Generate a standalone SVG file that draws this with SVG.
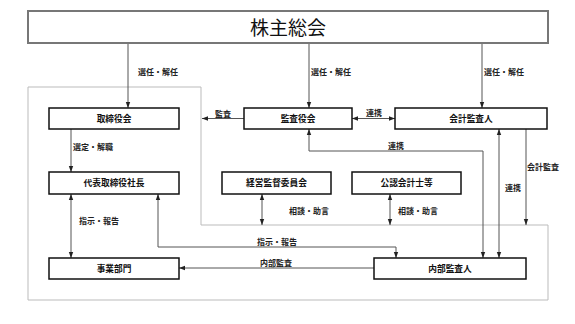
<svg xmlns="http://www.w3.org/2000/svg" width="575" height="324" viewBox="0 0 575 324">
<defs>
<marker id="ah" markerUnits="userSpaceOnUse" markerWidth="6" markerHeight="6" viewBox="0 0 6 6" refX="6" refY="3" orient="auto-start-reverse">
<path d="M0,0.8 L6,3 L0,5.2 Z" fill="#222"/>
</marker>
<style>
.node rect{fill:#fff;stroke:#111;stroke-width:1.5}
.node text{font-family:"Noto Sans CJK JP","Noto Sans",sans-serif;font-size:8.7px;font-weight:bold;fill:#111;text-anchor:middle}
.conn path{fill:none;stroke:#555;stroke-width:1}
.lbl{font-family:"Noto Sans CJK JP","Noto Sans",sans-serif;font-size:8px;font-weight:bold;fill:#222}
</style>
</defs>
<rect width="575" height="324" fill="#fff"/>
<path id="region" d="M28,87 H201 V225 H548 V300 H28 Z" fill="none" stroke="#bbb" stroke-width="1"/>
<g id="n-soukai">
<rect x="28" y="11" width="520" height="32" fill="#fff" stroke="#777" stroke-width="2"/>
<text x="288" y="35" font-family="'Noto Sans CJK JP','Noto Sans',sans-serif" font-size="19" fill="#111" text-anchor="middle">株主総会</text>
</g>
<g class="conn" id="connectors">
<path d="M128,44 V108" marker-end="url(#ah)"/>
<path d="M309,44 V108" marker-end="url(#ah)"/>
<path d="M482,44 V108" marker-end="url(#ah)"/>
<path d="M244,118.5 H202" marker-end="url(#ah)"/>
<path d="M352,118.5 H395" marker-start="url(#ah)" marker-end="url(#ah)"/>
<path d="M309,129 V151 H483 V258" marker-start="url(#ah)" marker-end="url(#ah)"/>
<path d="M499,129 V258" marker-start="url(#ah)" marker-end="url(#ah)"/>
<path d="M526,129 V225" marker-end="url(#ah)"/>
<path d="M71,129 V172" marker-end="url(#ah)"/>
<path d="M71,194 V258" marker-start="url(#ah)" marker-end="url(#ah)"/>
<path d="M158,194 V247 H396 V258" marker-start="url(#ah)" marker-end="url(#ah)"/>
<path d="M374,268 H179" marker-end="url(#ah)"/>
<path d="M262,194 V225" marker-start="url(#ah)" marker-end="url(#ah)"/>
<path d="M390,194 V225" marker-start="url(#ah)" marker-end="url(#ah)"/>
<text class="lbl" x="138" y="75">選任・解任</text>
<text class="lbl" x="311" y="75">選任・解任</text>
<text class="lbl" x="484" y="75">選任・解任</text>
<text class="lbl" x="215" y="116.5">監査</text>
<text class="lbl" x="366" y="116">連携</text>
<text class="lbl" x="388" y="149">連携</text>
<text class="lbl" x="73" y="150">選定・解職</text>
<text class="lbl" x="527" y="170">会計監査</text>
<text class="lbl" x="505" y="191">連携</text>
<text class="lbl" x="289" y="214">相談・助言</text>
<text class="lbl" x="398" y="214">相談・助言</text>
<text class="lbl" x="79" y="224">指示・報告</text>
<text class="lbl" x="257" y="245">指示・報告</text>
<text class="lbl" x="260" y="266">内部監査</text>
</g>
<g class="node" id="n-torishimariyakukai"><rect x="49" y="108" width="130" height="21"/><text x="114" y="121.5">取締役会</text></g>
<g class="node" id="n-kansayakukai"><rect x="244" y="108" width="108" height="21"/><text x="298" y="121.5">監査役会</text></g>
<g class="node" id="n-kaikeikansanin"><rect x="395" y="108" width="152" height="21"/><text x="471" y="121.5">会計監査人</text></g>
<g class="node" id="n-shacho"><rect x="49" y="172" width="130" height="22"/><text x="114" y="186">代表取締役社長</text></g>
<g class="node" id="n-keiei"><rect x="222" y="172" width="109" height="22"/><text x="276.5" y="186">経営監督委員会</text></g>
<g class="node" id="n-kounin"><rect x="352" y="172" width="109" height="22"/><text x="406.5" y="186">公認会計士等</text></g>
<g class="node" id="n-jigyo"><rect x="49" y="258" width="130" height="21"/><text x="114" y="271.5">事業部門</text></g>
<g class="node" id="n-naibu"><rect x="374" y="258" width="152" height="21"/><text x="450" y="271.5">内部監査人</text></g>
</svg>
